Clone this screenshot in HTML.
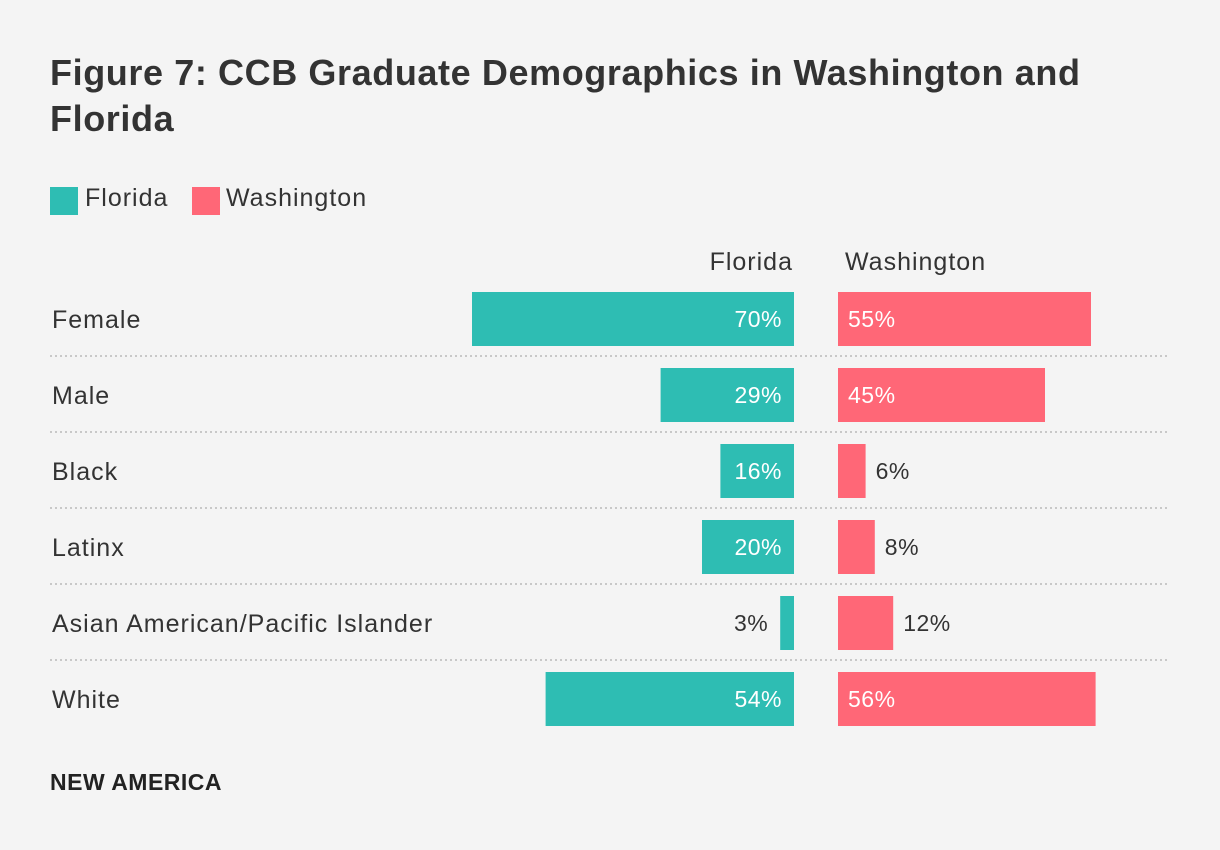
<!DOCTYPE html>
<html><head><meta charset="utf-8"><style>
body{margin:0;width:1220px;height:850px;background:#f4f4f4;font-family:"Liberation Sans",sans-serif;color:#333;position:relative;overflow:hidden}
.t{position:absolute;white-space:nowrap}
</style></head><body>
<div class="t" style="left:50px;top:50px;font-size:36px;letter-spacing:0.6px;font-weight:bold;line-height:46px;color:#333">Figure 7: CCB Graduate Demographics in Washington and<br>Florida</div>
<div><div style="position:absolute;left:50px;top:187px;width:28px;height:28px;background:#2ebdb3"></div><div class="t" style="left:85px;top:184px;font-size:25px;letter-spacing:1px">Florida</div></div>
<div><div style="position:absolute;left:192px;top:187px;width:28px;height:28px;background:#ff6777"></div><div class="t" style="left:226px;top:184px;font-size:25px;letter-spacing:1px">Washington</div></div>
<div class="t" style="right:427px;top:248px;font-size:25px;letter-spacing:1px">Florida</div>
<div class="t" style="left:845px;top:248px;font-size:25px;letter-spacing:1px">Washington</div>
<svg id="chart" width="1220" height="850" style="position:absolute;left:0;top:0"></svg>
<div class="t" style="left:50px;top:769px;font-size:23px;letter-spacing:0.5px;font-weight:bold;color:#222">NEW AMERICA</div>
<script>
const categories=["Female","Male","Black","Latinx","Asian American/Pacific Islander","White"];
const florida=[70,29,16,20,3,54];
const washington=[55,45,6,8,12,56];
const svg=document.getElementById('chart');
const NS='http://www.w3.org/2000/svg';
const sc=v=>v*4.6;
const rowY=i=>292+i*76;
function mk(tag,attrs,txt){const e=document.createElementNS(NS,tag);for(const k in attrs)e.setAttribute(k,attrs[k]);if(txt!==undefined)e.textContent=txt;svg.appendChild(e);return e;}
categories.forEach((c,i)=>{
  const y=rowY(i);
  const lab=mk('text',{x:52,y:y+36,'font-size':25,'letter-spacing':1,fill:'#333'},c);
  
  
  if(i<categories.length-1){const l=mk('line',{x1:50,x2:1168,y1:y+64,y2:y+64,stroke:'#c8c8c8','stroke-width':2,'stroke-dasharray':'2,3'});
  
  }
  const fw=sc(florida[i]);
  const fb=mk('rect',{x:794-fw,y:y,width:fw,height:54,fill:'#2ebdb3'});
  
  
  const fin=fw>60;
  const ft=mk('text',{x:fin?782:794-fw-12,y:y+35,'font-size':23,'letter-spacing':0.5,'text-anchor':'end',fill:fin?'#fff':'#333'},florida[i]+'%');
  
  
  const ww=sc(washington[i]);
  const wb=mk('rect',{x:838,y:y,width:ww,height:54,fill:'#ff6777'});
  
  
  const win=ww>60;
  const wt=mk('text',{x:win?848:838+ww+10,y:y+35,'font-size':23,'letter-spacing':0.5,fill:win?'#fff':'#333'},washington[i]+'%');
  
  
});
</script>
</body></html>
